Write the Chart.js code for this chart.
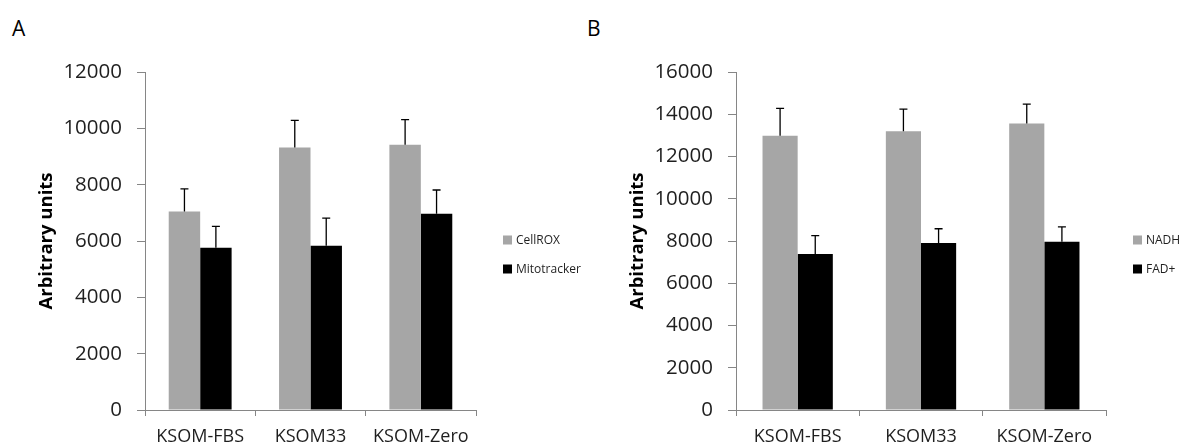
<!DOCTYPE html>
<html>
<head>
<meta charset="utf-8">
<script src="https://cdn.jsdelivr.net/npm/chart.js@4.4.1/dist/chart.umd.min.js"></script>
<style>
  html, body { margin: 0; padding: 0; background: #fff; }
  body { width: 1187px; height: 443px; position: relative; overflow: hidden; font-family: "Open Sans", sans-serif; }
  .panel { position: absolute; top: 0; height: 443px; }
  .tag { position: absolute; top: 18px; font-size: 21px; line-height: 21px; color: #000; }
</style>
</head>
<body>
<div class="tag" style="left:12px">A</div>
<div class="tag" style="left:587px">B</div>
<div class="panel" style="left:0;width:593px"><canvas id="chartA"></canvas></div>
<div class="panel" style="left:593px;width:594px"><canvas id="chartB"></canvas></div>
<script>
// categories shared by both panels
var categories = ['KSOM-FBS', 'KSOM33', 'KSOM-Zero'];

// panel A
var cellrox = [7050, 9320, 9420];
var cellroxErr = [800, 960, 890];
var mitotracker = [5760, 5830, 6970];
var mitotrackerErr = [760, 980, 840];
var ticksA = [0, 2000, 4000, 6000, 8000, 10000, 12000];

// panel B
var nadh = [12980, 13200, 13560];
var nadhErr = [1300, 1040, 920];
var fad = [7380, 7900, 7960];
var fadErr = [870, 680, 710];
var ticksB = [0, 2000, 4000, 6000, 8000, 10000, 12000, 14000, 16000];

var GRAY = '#a6a6a6';
var AXIS = '#868686';
var TEXT = '#1f1f1f';

// upper error bars, drawn from each bar top
var errorBars = {
    id: 'errorBars',
    afterDatasetsDraw: function(chart) {
        var ctx = chart.ctx;
        var y = chart.scales.y;
        ctx.save();
        ctx.strokeStyle = '#000';
        ctx.lineWidth = 1.3;
        chart.data.datasets.forEach(function(ds, i) {
            var meta = chart.getDatasetMeta(i);
            meta.data.forEach(function(bar, j) {
                var top = y.getPixelForValue(ds.data[j] + ds.errors[j]);
                ctx.beginPath();
                ctx.moveTo(bar.x, bar.y);
                ctx.lineTo(bar.x, top);
                ctx.moveTo(bar.x - 4, top);
                ctx.lineTo(bar.x + 4, top);
                ctx.stroke();
            });
        });
        ctx.restore();
    }
};

// small legend to the right of the plot
var sideLegend = {
    id: 'sideLegend',
    afterDraw: function(chart) {
        var ctx = chart.ctx;
        var area = chart.chartArea;
        ctx.save();
        ctx.font = '12px "Open Sans"';
        ctx.textBaseline = 'middle';
        chart.data.datasets.forEach(function(ds, i) {
            var x = area.right + 27;
            var yc = area.top + 168 + i * 29;
            ctx.fillStyle = ds.backgroundColor;
            ctx.fillRect(x, yc - 4.5, 9, 9);
            ctx.fillStyle = TEXT;
            ctx.fillText(ds.label, x + 13, yc + 1);
        });
        ctx.restore();
    }
};

function makeChart(id, sets, ticks, padLeft, padRight) {
    var max = ticks[ticks.length - 1];
    return new Chart(document.getElementById(id), {
        type: 'bar',
        data: {
            labels: categories,
            datasets: sets.map(function(s) {
                return {
                    label: s.label,
                    data: s.data,
                    errors: s.errors,
                    backgroundColor: s.color,
                    borderWidth: 0,
                    categoryPercentage: 0.57,
                    barPercentage: 1.0
                };
            })
        },
        options: {
            responsive: true,
            maintainAspectRatio: false,
            animation: false,
            layout: { padding: { left: padLeft, right: padRight, top: 72, bottom: 0 } },
            plugins: { legend: { display: false }, tooltip: { enabled: false } },
            scales: {
                x: {
                    grid: { display: true, drawOnChartArea: false, drawTicks: true, tickLength: 6, color: AXIS, offset: true },
                    border: { display: true, color: AXIS, width: 1 },
                    ticks: { color: TEXT, font: { family: 'Open Sans', size: 18 }, padding: 10, maxRotation: 0 },
                    afterFit: function(scale) { scale.height = 33; }
                },
                y: {
                    min: 0,
                    max: max,
                    afterBuildTicks: function(scale) {
                        scale.ticks = ticks.map(function(v) { return { value: v }; });
                    },
                    grid: { display: true, drawOnChartArea: false, drawTicks: true, tickLength: 8, color: AXIS },
                    border: { display: true, color: AXIS, width: 1 },
                    ticks: {
                        color: TEXT,
                        font: { family: 'Open Sans', size: 20.5 },
                        padding: 15,
                        callback: function(v) { return String(v); }
                    },
                    title: {
                        display: true,
                        text: 'Arbitrary units',
                        color: '#000',
                        font: { family: 'Open Sans', size: 18.5, weight: 'bold' },
                        padding: { top: 4, bottom: 4 }
                    },
                    afterFit: function(scale) { scale.width = 113; }
                }
            }
        },
        plugins: [errorBars, sideLegend]
    });
}

document.addEventListener('DOMContentLoaded', function() {
    makeChart('chartA', [
        { label: 'CellROX', data: cellrox, errors: cellroxErr, color: GRAY },
        { label: 'Mitotracker', data: mitotracker, errors: mitotrackerErr, color: '#000' }
    ], ticksA, 32, 117);

    makeChart('chartB', [
        { label: 'NADH', data: nadh, errors: nadhErr, color: GRAY },
        { label: 'FAD+', data: fad, errors: fadErr, color: '#000' }
    ], ticksB, 30, 81);
});
</script>
</body>
</html>
